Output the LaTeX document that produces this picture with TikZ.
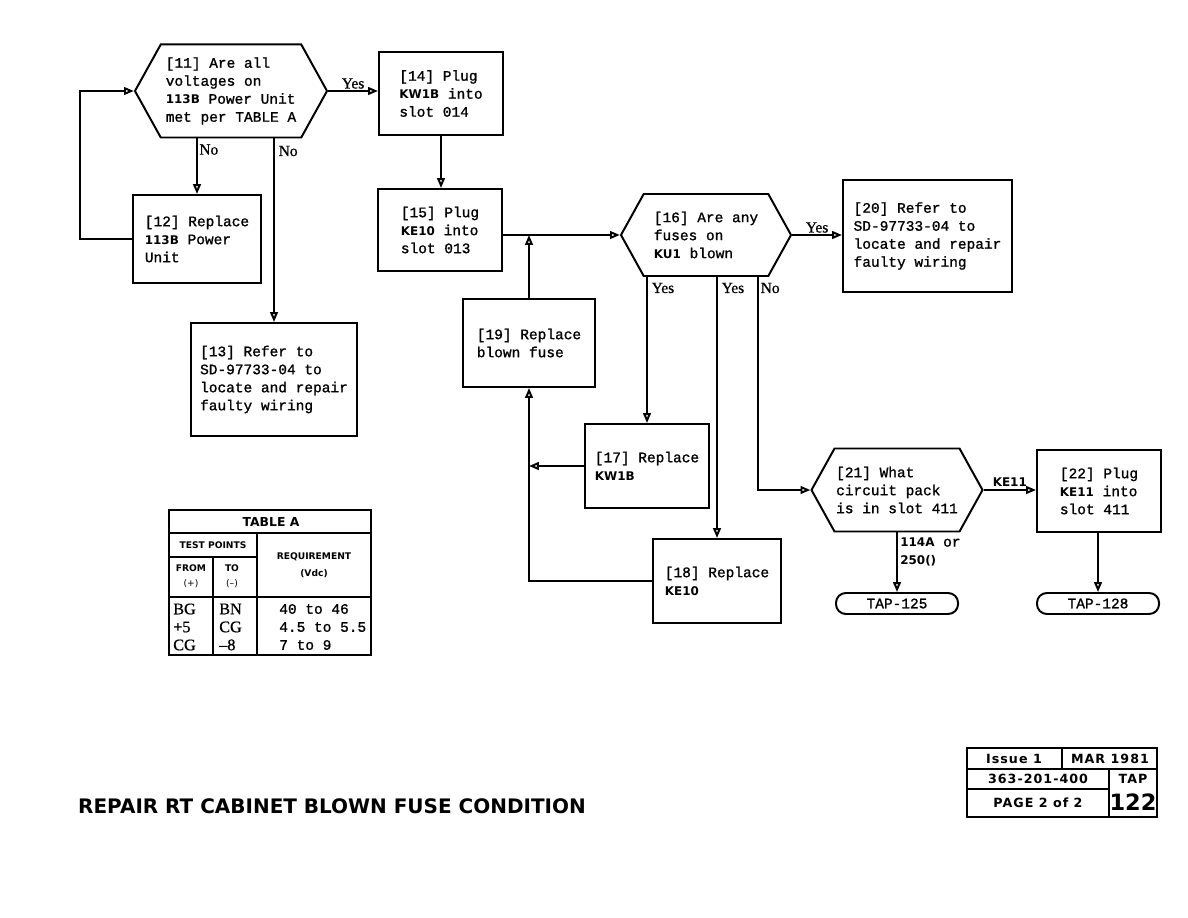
\documentclass[tikz,border=0pt]{standalone}
\usepackage{fontspec}
\setmainfont{Liberation Serif}
\setsansfont{DejaVu Sans}
\setmonofont{Liberation Mono}
\newfontfamily\stepfont{Liberation Mono}[FakeBold=1.2]
\newfontfamily\ynfont{Liberation Serif}[FakeBold=0.8, Ligatures=TeX]
\usepackage{tikz}
\usetikzlibrary{positioning, shapes.symbols, arrows.meta, calc}

% bold pack codes inside the step texts
\newcommand{\pk}[1]{{\sffamily\bfseries\fontsize{8.5}{10}\selectfont #1}}
\newcommand{\hd}[1]{{\sffamily\bfseries\fontsize{6.5}{8}\selectfont #1}}
\newcommand{\blk}[1]{{\sffamily\bfseries\fontsize{9}{10}\selectfont\addfontfeatures{LetterSpace=8} #1}}

\tikzset{
  stepbox/.style={draw, line width=1.4pt, rectangle, align=left, inner sep=2pt,
    font=\stepfont\fontsize{10.3}{12.8}\selectfont},
  askbox/.style={draw, line width=1.4pt, signal, signal to=east and west,
    signal pointer angle=122, align=left, inner sep=1pt,
    font=\stepfont\fontsize{10.3}{12.8}\selectfont},
  endbox/.style={draw, line width=1.4pt, rectangle, rounded corners=7pt,
    minimum width=3.05cm, minimum height=0.525cm, inner sep=0pt,
    font=\stepfont\fontsize{10.3}{12}\selectfont},
  arr/.style={-{Triangle[open, length=7pt, width=5.5pt]}, line width=1.4pt},
  lin/.style={line width=1.4pt},
  yn/.style={font=\ynfont\fontsize{11}{12}\selectfont, inner sep=1pt},
}

\begin{document}
\begin{tikzpicture}[x=0.025cm, y=-0.025cm]
  \useasboundingbox (0,0) rectangle (1188,918);

  % Left column
  \node[askbox, minimum width=4.8cm, minimum height=2.325cm] (q11) at (231,91)
    {[11] Are all\\voltages on\\\pk{113B} Power Unit\\met per TABLE A};
  \node[stepbox, minimum width=3.2cm, minimum height=2.2cm] (b12) at (197,239)
    {[12] Replace\\\pk{113B} Power\\Unit};
  \node[stepbox, minimum width=4.15cm, minimum height=2.825cm] (b13) at (274,379.5)
    {[13] Refer to\\SD-97733-04 to\\locate and repair\\faulty wiring};
  \node[stepbox, minimum width=3.1cm, minimum height=2.075cm] (b14) at (441,93.5)
    {[14] Plug\\\pk{KW1B} into\\slot 014};
  \node[stepbox, minimum width=3.1cm, minimum height=2.05cm] (b15) at (440,230)
    {[15] Plug\\\pk{KE10} into\\slot 013};

  \draw[arr] (q11.east) -- node[yn, above] (y11) {Yes} (q11.east -| b14.west);
  \draw[arr] (q11.south -| b12) -- node[yn, pos=0.2, right] (n11a) {No} (b12.north);
  \draw[arr] (q11.south -| b13) -- (b13.north);
  \node[yn, right] (n11b) at (277,151) {No};
  \draw[arr] (b12.west) -- ++(-52,0) |- (q11.west);
  \draw[arr] (b14.south) -- (b14.south |- b15.north);

  % Middle column
  \node[askbox, minimum width=4.25cm, minimum height=2.05cm] (q16) at (706,235)
    {[16] Are any\\fuses on\\\pk{KU1} blown};
  \node[stepbox, minimum width=3.3cm, minimum height=2.2cm] (b19) at (529,343)
    {[19] Replace\\blown fuse};
  \node[stepbox, minimum width=3.1cm, minimum height=2.1cm] (b17) at (647,466)
    {[17] Replace\\\pk{KW1B}};
  \node[stepbox, minimum width=3.2cm, minimum height=2.1cm] (b18) at (717,581)
    {[18] Replace\\\pk{KE10}};
  \node[stepbox, minimum width=4.225cm, minimum height=2.8cm] (b20) at (927.5,236)
    {[20] Refer to\\SD-97733-04 to\\locate and repair\\faulty wiring};
  \coordinate (nox) at (758,276);

  \draw[arr] (b15.east |- q16.west) -- (q16.west);
  \draw[arr] (b19.north) -- (b19.north |- q16.west);
  \draw[arr] (q16.east) -- node[yn, above] (y16) {Yes} (q16.east -| b20.west);
  \draw[arr] (q16.south -| b17) -- (b17.north);
  \draw[arr] (q16.south -| b18) -- (b18.north);
  \node[yn, right] (y16a) at (650,288) {Yes};
  \node[yn, right] (y16b) at (720,288) {Yes};
  \node[yn, right] (n16) at (759,288) {No};
  \draw[arr] (b17.west) -- (b17.west -| b19.south);
  \draw[arr] (b18.west) -| (b19.south);

  % Right column
  \node[askbox, minimum width=4.275cm, minimum height=2.075cm] (q21) at (897,490)
    {[21] What\\circuit pack\\is in slot 411};
  \node[stepbox, minimum width=3.1cm, minimum height=2.05cm] (b22) at (1099,491)
    {[22] Plug\\\pk{KE11} into\\slot 411};
  \node[endbox] (t125) at (897,603.5) {TAP-125};
  \node[endbox] (t128) at (1098,603.5) {TAP-128};

  \draw[arr] (q16.south -| nox) |- (q21.west);
  \draw[arr] (q21.east) -- node[above, inner sep=2pt] (ke11) {\pk{KE11}} (q21.east -| b22.west);
  \draw[arr] (q21.south) -- (t125.north);
  \draw[arr] (b22.south -| t128) -- (t128.north);
  \node[anchor=west, align=left, inner sep=0pt, font=\stepfont\fontsize{10.3}{12.8}\selectfont]
    (alt) at (900,552) {\pk{114A} or\\\pk{250()}};

  % Table A
  \draw[lin] (169,510) rectangle (371,655);
  \draw[lin] (169,533) -- (371,533);
  \draw[lin] (169,557) -- (257,557);
  \draw[lin] (169,597) -- (371,597);
  \draw[lin] (257,533) -- (257,655);
  \draw[lin] (213,557) -- (213,655);
  \node (tabt) at (271,521.5) {\sffamily\bfseries\fontsize{8.8}{10}\selectfont TABLE A};
  \node (tabtp) at (213,545) {\hd{TEST POINTS}};
  \node[align=center] (tabfr) at (191,576) {\hd{FROM}\\[-1pt]{\sffamily\fontsize{6.5}{8}\selectfont (+)}};
  \node[align=center] (tabto) at (232,576) {\hd{TO}\\[-1pt]{\sffamily\fontsize{6.5}{8}\selectfont (--)}};
  \node[align=center] (tabrq) at (314,565) {\hd{REQUIREMENT}\\\hd{(Vdc)}};
  \node[anchor=west, align=left, inner sep=0pt, font=\ynfont\fontsize{11.5}{12.8}\selectfont]
    (tabfv) at (173,627) {BG\\+5\\CG};
  \node[anchor=west, align=left, inner sep=0pt, font=\ynfont\fontsize{11.5}{12.8}\selectfont]
    (tabtv) at (219,627) {BN\\CG\\–8};
  \node[anchor=west, align=left, inner sep=0pt, font=\stepfont\fontsize{10.3}{12.8}\selectfont]
    (tabrv) at (279,627) {40 to 46\\4.5 to 5.5\\7 to 9};

  % Title
  \node (title) at (332,806) {\sffamily\bfseries\fontsize{14.2}{16}\selectfont REPAIR RT CABINET BLOWN FUSE CONDITION};

  % Issue block
  \draw[lin] (967,748) rectangle (1157,817);
  \draw[lin] (967,769) -- (1157,769);
  \draw[lin] (967,789) -- (1109,789);
  \draw[lin] (1062,748) -- (1062,769);
  \draw[lin] (1109,769) -- (1109,817);
  \node (iss) at (1014,758.5) {\blk{Issue 1}};
  \node (date) at (1110,758.5) {\blk{MAR 1981}};
  \node (docno) at (1038,779) {\blk{363-201-400}};
  \node (page) at (1038,803) {\blk{PAGE 2 of 2}};
  \node (tap) at (1133,779) {\blk{TAP}};
  \node (tapno) at (1133,802) {\sffamily\bfseries\fontsize{16}{16}\selectfont 122};
\end{tikzpicture}
\end{document}
